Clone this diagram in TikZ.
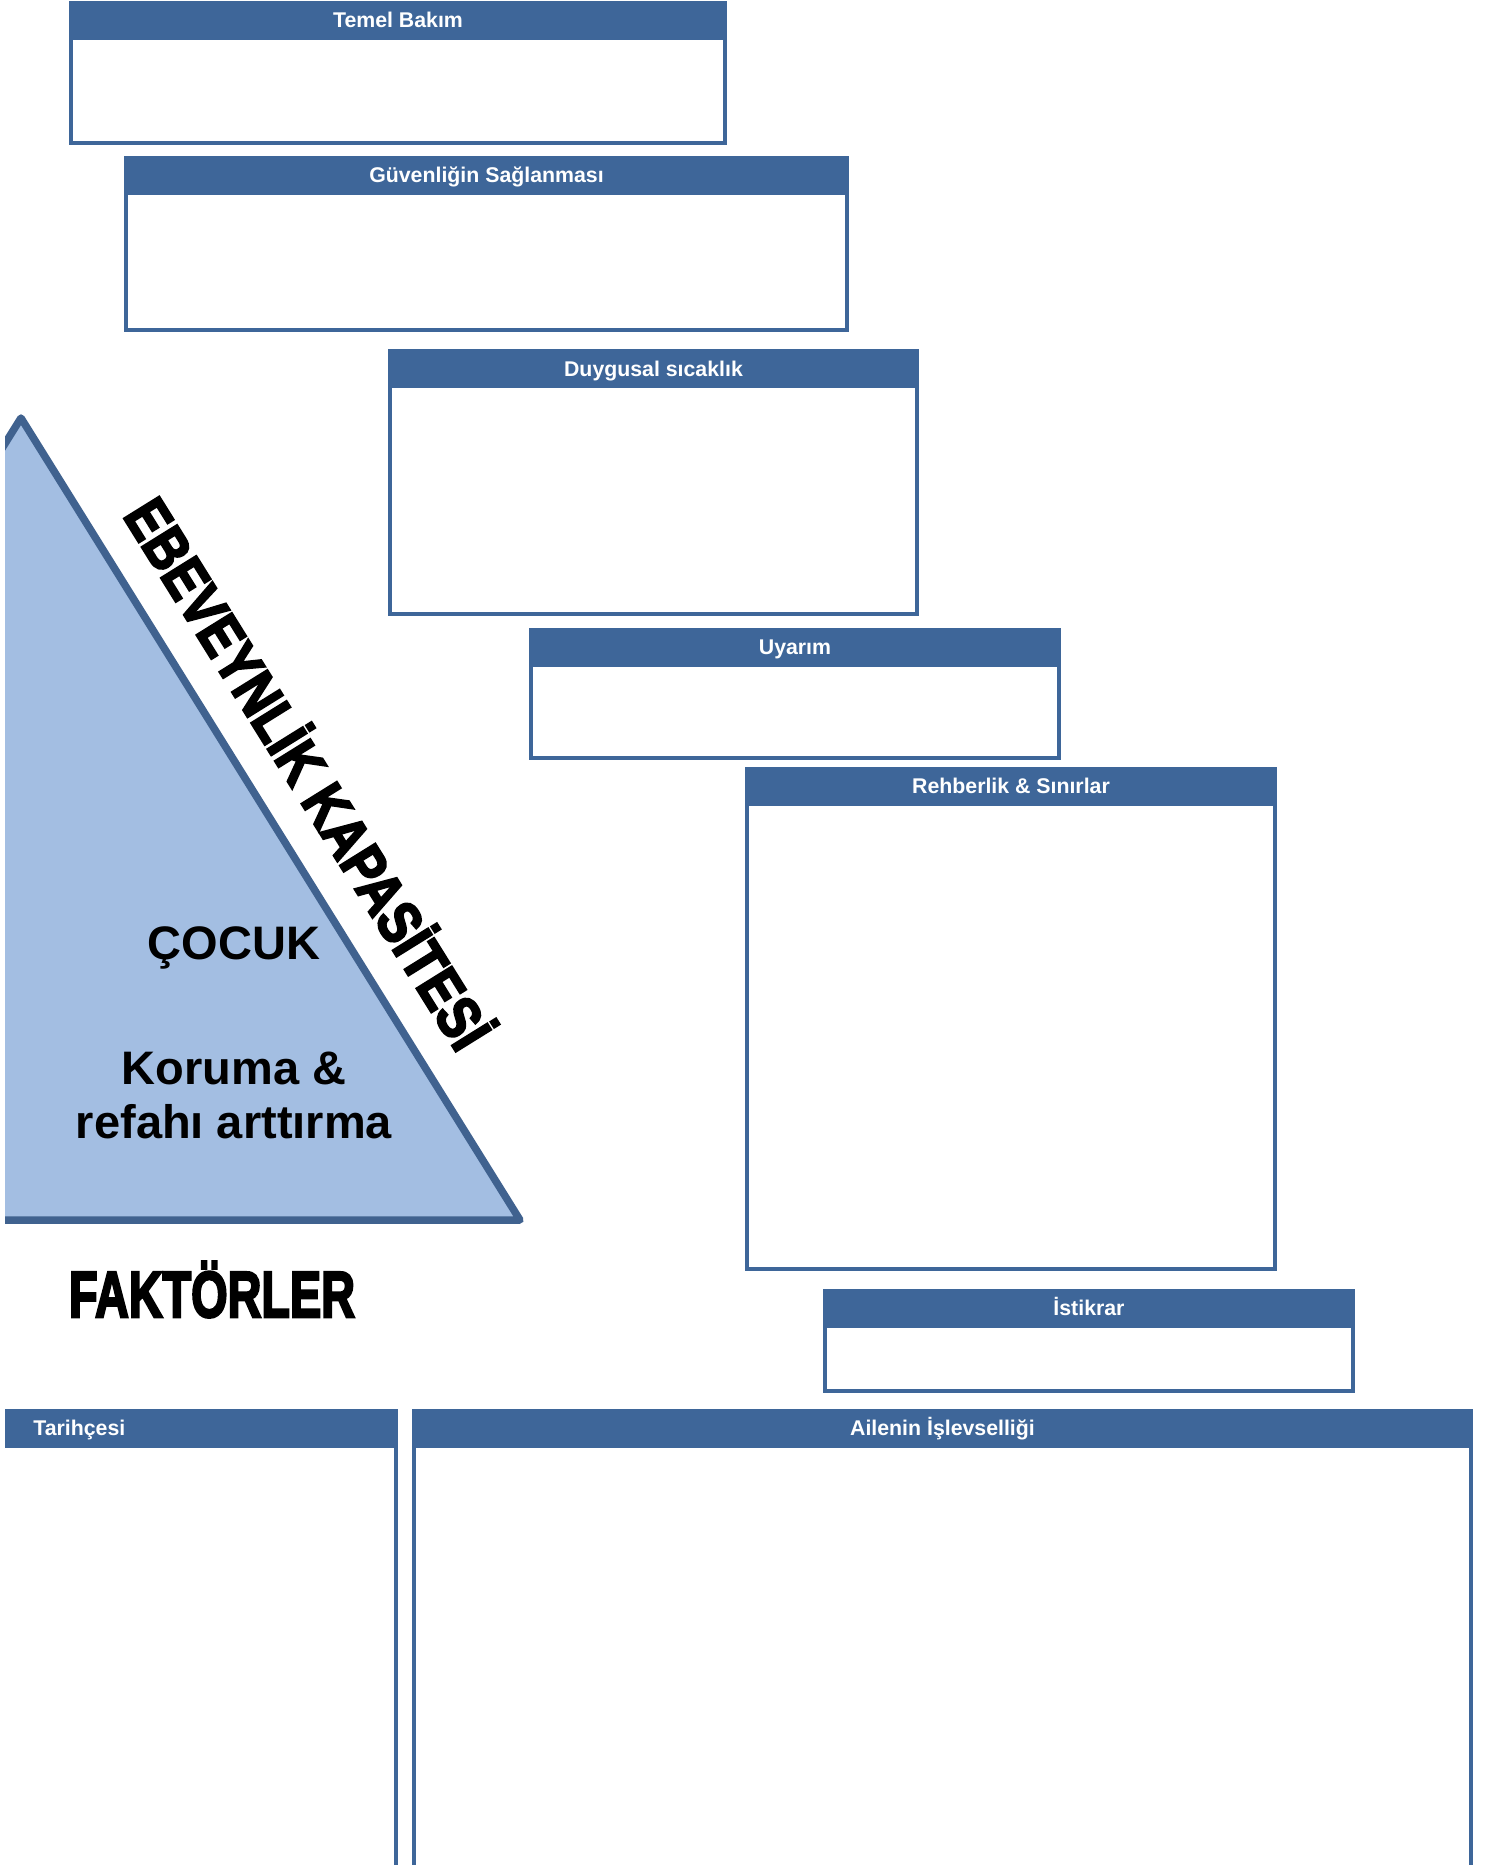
\documentclass[tikz,border=0pt]{standalone}
\usepackage{fontspec}
\setmainfont{Liberation Sans}
\newfontfamily\heavyfont{Liberation Sans Bold}[FakeBold=4]
\usepackage{graphicx}

\definecolor{panelblue}{RGB}{62,102,153}
\definecolor{triblue}{RGB}{163,190,226}
\definecolor{triedge}{RGB}{64,98,143}

\tikzset{
  panel/.style={draw=panelblue, line width=2bp, fill=white},
  panelhead/.style={draw=panelblue, line width=2bp, fill=panelblue},
  paneltitle/.style={text=white, inner sep=0pt, anchor=base,
    font=\bfseries\fontsize{10.65bp}{12bp}\selectfont},
  childtext/.style={inner sep=0pt, anchor=base,
    font=\bfseries\fontsize{23.5bp}{27bp}\selectfont}
}

\begin{document}
\begin{tikzpicture}[x=0.5bp, y=-0.5bp]
	\useasboundingbox [fill=white] (0, 0) rectangle (1492, 1865);
	\begin{scope}
		\clip (5, 0) rectangle (1492, 1865);
		% triangle
		\filldraw [fill=triblue, draw=triedge, line width=3.75bp, line join=round] (21, 418) -- (520, 1220) -- (-480, 1220) -- cycle;
		\node [childtext] (cocuk) at (234, 959) {ÇOCUK};
		\node [childtext] (koruma) at (234, 1084) {Koruma \&};
		\node [childtext] (refah) at (234, 1138) {refahı arttırma};
		\node [inner sep=0pt, anchor=base, rotate=-58.1, font=\heavyfont\fontsize{30bp}{34bp}\selectfont] (kapasite) at (290, 785) {\scalebox{0.84}[1]{EBEVEYNLİK KAPASİTESİ}};
		\node [inner sep=0pt, anchor=base, font=\heavyfont\fontsize{32.5bp}{36bp}\selectfont] (faktorler) at (212, 1317) {\scalebox{0.72}[1]{FAKTÖRLER}};
		% panels
		\draw [panel] (71, 3) rectangle (725, 143);
		\filldraw [panelhead] (71, 3) rectangle (725, 38);
		\node [paneltitle] (temel) at (398, 27) {Temel Bakım};
		\draw [panel] (126, 158) rectangle (847, 330);
		\filldraw [panelhead] (126, 158) rectangle (847, 193);
		\node [paneltitle] (guvenlik) at (486.5, 182) {Güvenliğin Sağlanması};
		\draw [panel] (390, 351) rectangle (917, 614);
		\filldraw [panelhead] (390, 351) rectangle (917, 386);
		\node [paneltitle] (duygusal) at (653.5, 376) {Duygusal sıcaklık};
		\draw [panel] (531, 630) rectangle (1059, 758);
		\filldraw [panelhead] (531, 630) rectangle (1059, 665);
		\node [paneltitle] (uyarim) at (795, 654) {Uyarım};
		\draw [panel] (747, 769) rectangle (1275, 1269);
		\filldraw [panelhead] (747, 769) rectangle (1275, 804);
		\node [paneltitle] (rehberlik) at (1011, 793) {Rehberlik \& Sınırlar};
		\draw [panel] (825, 1291) rectangle (1353, 1391);
		\filldraw [panelhead] (825, 1291) rectangle (1353, 1326);
		\node [paneltitle] (istikrar) at (1089, 1315) {İstikrar};
		\draw [panel] (-10, 1411) rectangle (396, 1900);
		\filldraw [panelhead] (-10, 1411) rectangle (396, 1446);
		\node [paneltitle, anchor=base west] (tarihce) at (33, 1435) {Tarihçesi};
		\draw [panel] (414, 1411) rectangle (1471, 1900);
		\filldraw [panelhead] (414, 1411) rectangle (1471, 1446);
		\node [paneltitle] (aile) at (942.5, 1435) {Ailenin İşlevselliği};
	\end{scope}
\end{tikzpicture}
\end{document}
